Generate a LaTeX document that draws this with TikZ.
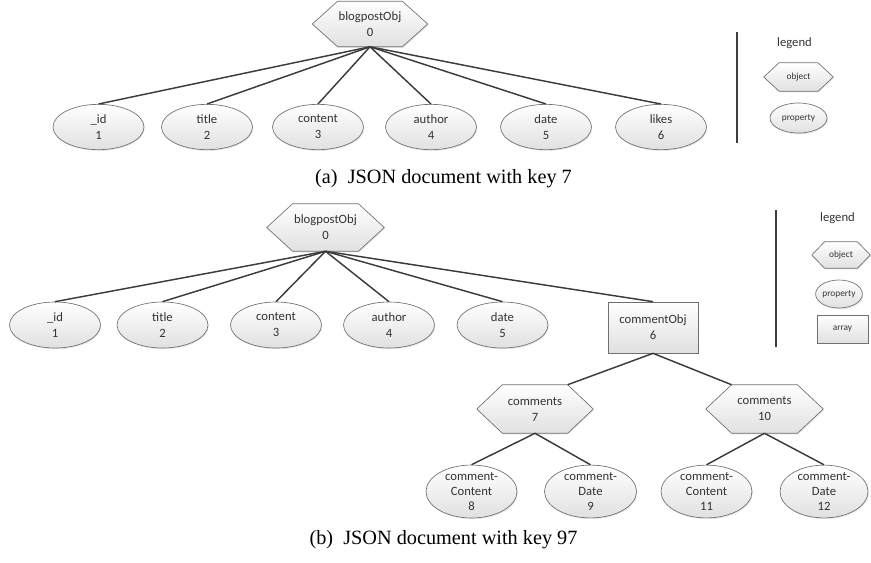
\documentclass[tikz,border=0pt]{standalone}
\usepackage{fontspec}
\setmainfont{Carlito}
\newfontfamily\capfont{Liberation Serif}
\usetikzlibrary{shapes.geometric,shadows,backgrounds,calc}
\definecolor{edgec}{HTML}{3C3C3C}
\definecolor{outl}{HTML}{707070}
\definecolor{txt}{HTML}{333333}
\tikzset{
  shapefill/.style={top color=white, bottom color=gray!24, draw=outl, line width=0.5pt,
    drop shadow={shadow xshift=0.6pt, shadow yshift=-0.9pt, opacity=0.2}},
  nodefont/.style={font=\fontsize{9.5}{12}\selectfont, text=txt},
  legfont/.style={font=\fontsize{7}{8.5}\selectfont, text=txt},
  prop/.style={ellipse, shapefill, inner sep=0pt, align=center, nodefont},
  arr/.style={rectangle, shapefill, inner sep=0pt, align=center, nodefont},
  hexlabel/.style={rectangle, inner sep=0pt, align=center, nodefont},
  conn/.style={draw=edgec, line width=1.1pt},
  capt/.style={font=\capfont\fontsize{15.2}{18}\selectfont, text=black},
  legtitle/.style={font=\fontsize{9.5}{12}\selectfont, text=txt}
}
% #1 name, #2 position, #3 width px, #4 height px, #5 extra style, #6 text
\newcommand\hexnode[6]{%
  \node[hexlabel, #5, minimum width=#3*0.75pt, minimum height=#4*0.75pt] (#1) at (#2) {#6};
  \coordinate (#1-tl) at ($(#1.north west)!0.22!(#1.north east)$);
  \coordinate (#1-tr) at ($(#1.north west)!0.78!(#1.north east)$);
  \coordinate (#1-bl) at ($(#1.south west)!0.22!(#1.south east)$);
  \coordinate (#1-br) at ($(#1.south west)!0.78!(#1.south east)$);
  \begin{pgfonlayer}{background}
    \path[shapefill] (#1.west) -- (#1-tl) -- (#1-tr) -- (#1.east) -- (#1-br) -- (#1-bl) -- cycle;
  \end{pgfonlayer}%
}
\begin{document}
\begin{tikzpicture}[x=0.75pt, y=-0.75pt]
\useasboundingbox (0,0) rectangle (871,562);

% ---------------- (a) ----------------
\hexnode{a0}{370,24}{115}{45}{}{blogpostObj\\0}
\node[prop, minimum width=68.25pt, minimum height=34pt] (a1) at (98.5,127) {\_id\\1};
\node[prop, minimum width=68.25pt, minimum height=34pt] (a2) at (207,127) {title\\2};
\node[prop, minimum width=68.25pt, minimum height=34pt] (a3) at (318,127) {content\\3};
\node[prop, minimum width=68.25pt, minimum height=34pt] (a4) at (431,127) {author\\4};
\node[prop, minimum width=68.25pt, minimum height=34pt] (a5) at (546,127) {date\\5};
\node[prop, minimum width=68.25pt, minimum height=34pt] (a6) at (661,127) {likes\\6};
\foreach \n in {a1,a2,a3,a4,a5,a6} \draw[conn] (a0.south) -- (\n.north);

% legend (a)
\coordinate (la1) at (737,32);
\coordinate (la2) at (737,143);
\draw[draw=edgec, line width=0.9pt] (la1) -- (la2);
\node[legtitle] (lat) at (794.5,43) {legend};
\hexnode{lao}{798.5,77}{69}{28}{legfont}{object}
\node[prop, legfont, minimum width=42.75pt, minimum height=22.5pt] (lap) at (798.5,118) {property};

\node[capt] (capa) at (443.5,179) {(a)\hspace{0.5em}JSON document with key 7};

% ---------------- (b) ----------------
\hexnode{b0}{325.5,227.5}{117}{47}{}{blogpostObj\\0}
\node[prop, minimum width=68.25pt, minimum height=34.5pt] (b1) at (55,325) {\_id\\1};
\node[prop, minimum width=68.25pt, minimum height=34.5pt] (b2) at (162.5,325) {title\\2};
\node[prop, minimum width=68.25pt, minimum height=34.5pt] (b3) at (276,325) {content\\3};
\node[prop, minimum width=68.25pt, minimum height=34.5pt] (b4) at (389,325) {author\\4};
\node[prop, minimum width=68.25pt, minimum height=34.5pt] (b5) at (502.5,325) {date\\5};
\node[arr, minimum width=67.5pt, minimum height=38.25pt] (b6) at (653,327.5) {commentObj\\6};
\foreach \n in {b1,b2,b3,b4,b5,b6} \draw[conn] (b0.south) -- (\n.north);

\hexnode{b7}{535,409}{116}{48}{}{comments\\7}
\hexnode{b10}{764.5,409}{117}{48}{}{comments\\10}
\draw[conn] (b6.south) -- (b7-tr);
\draw[conn] (b6.south) -- (b10-tl);

\node[prop, minimum width=68.25pt, minimum height=38.25pt, font=\fontsize{9.5}{11}\selectfont] (b8) at (471.5,491.5) {comment-\\Content\\8};
\node[prop, minimum width=69pt, minimum height=38.25pt, font=\fontsize{9.5}{11}\selectfont] (b9) at (590.5,491.5) {comment-\\Date\\9};
\node[prop, minimum width=68.25pt, minimum height=38.25pt, font=\fontsize{9.5}{11}\selectfont] (b11) at (706.5,491.5) {comment-\\Content\\11};
\node[prop, minimum width=66pt, minimum height=38.25pt, font=\fontsize{9.5}{11}\selectfont] (b12) at (824,491.5) {comment-\\Date\\12};
\draw[conn] (b7.south) -- (b8.north);
\draw[conn] (b7.south) -- (b9.north);
\draw[conn] (b10.south) -- (b11.north);
\draw[conn] (b10.south) -- (b12.north);

% legend (b)
\coordinate (lb1) at (776,210);
\coordinate (lb2) at (776,347);
\draw[draw=edgec, line width=0.9pt] (lb1) -- (lb2);
\node[legtitle] (lbt) at (837.5,218) {legend};
\hexnode{lbo}{841,255}{58}{26}{legfont}{object}
\node[prop, legfont, minimum width=34.5pt, minimum height=21pt] (lbp) at (839,294) {property};
\node[arr, legfont, minimum width=38.25pt, minimum height=21pt] (lba) at (842.5,329) {array};

\node[capt] (capb) at (443.5,540) {(b)\hspace{0.5em}JSON document with key 97};
\end{tikzpicture}
\end{document}
